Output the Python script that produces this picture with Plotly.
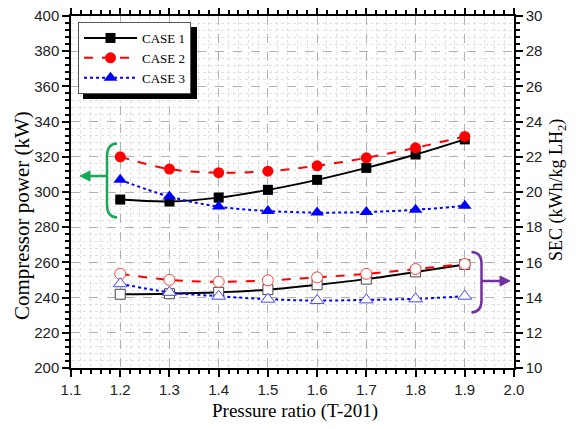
import plotly.graph_objects as go

pressure_ratio = [1.2, 1.3, 1.4, 1.5, 1.6, 1.7, 1.8, 1.9]

power_case1 = [295.7, 294.6, 296.8, 301.2, 306.9, 313.7, 321.3, 329.9]
power_case2 = [320.0, 313.0, 311.0, 311.8, 314.9, 319.4, 325.1, 331.6]
power_case3 = [306.9, 297.4, 291.7, 289.2, 288.3, 288.6, 289.9, 292.2]

sec_case1 = [14.19, 14.22, 14.30, 14.45, 14.73, 15.05, 15.46, 15.88]
sec_case2 = [15.35, 15.01, 14.90, 14.98, 15.15, 15.35, 15.62, 15.91]
sec_case3 = [14.79, 14.30, 14.08, 13.91, 13.83, 13.87, 13.93, 14.08]

case_names = ["CASE 1", "CASE 2", "CASE 3"]
x_ticks = [1.1, 1.2, 1.3, 1.4, 1.5, 1.6, 1.7, 1.8, 1.9, 2.0]

SERIF = "Liberation Serif"
SANS = "Liberation Sans"

styles = [
    dict(color="black", dash="solid", sym="square", size=10, osize=10, ocolor="#444444"),
    dict(color="#ff0000", dash="dash", sym="circle", size=11, osize=11, ocolor="#ff4040"),
    dict(color="#0000ff", dash="dot", sym="triangle-up", size=12, osize=12, ocolor="#4545ff"),
]

fig = go.Figure()
powers = [power_case1, power_case2, power_case3]
secs = [sec_case1, sec_case2, sec_case3]

for name, p, s, st in zip(case_names, powers, secs, styles):
    fig.add_trace(go.Scatter(
        x=pressure_ratio, y=p, name=name, mode="lines+markers",
        line=dict(color=st["color"], dash=st["dash"], width=2, shape="spline"),
        marker=dict(symbol=st["sym"], size=st["size"], color=st["color"]),
        legendgroup=name,
    ))
    fig.add_trace(go.Scatter(
        x=pressure_ratio, y=s, name=name, mode="lines+markers", yaxis="y2",
        line=dict(color=st["color"], dash=st["dash"], width=2, shape="spline"),
        marker=dict(symbol=st["sym"], size=st["osize"], color="white",
                    line=dict(width=1, color=st["ocolor"])),
        legendgroup=name, showlegend=False,
    ))

# screen layout (page body has an 8px default margin)
OFF = 8
SW, SH = 576, 429
PL, PR, PT, PB = 71, 514, 16, 368   # plot area in screen pixels
W, H = SW - OFF, SH - OFF
L, R, T, B = PL - OFF, SW - PR, PT - OFF, SH - PB
PW, PH = PR - PL, PB - PT


def dx(px):
    return 1.1 + (px - PL) / PW * 0.9


def dy(py):
    return 400 - (py - PT) / PH * 200


def paper_x(px):
    return (px - PL) / PW


def paper_y(py):
    return (PB - py) / PH


green = "#17a85a"
purple = "#7030a0"

# green bracket "(" and arrow pointing to the left axis
gp = (f"M {dx(117)},{dy(143.5)} Q {dx(107)},{dy(144)} {dx(107)},{dy(156)} "
      f"L {dx(107)},{dy(205)} Q {dx(107)},{dy(217)} {dx(117)},{dy(217.5)}")
fig.add_shape(type="path", path=gp, xref="x", yref="y", line=dict(color=green, width=2.5))
fig.add_shape(type="line", xref="x", yref="y", x0=dx(106), x1=dx(88), y0=dy(176), y1=dy(176),
              line=dict(color=green, width=2.5))
fig.add_shape(type="path", xref="x", yref="y",
              path=f"M {dx(80)},{dy(176)} L {dx(90)},{dy(171)} L {dx(90)},{dy(181)} Z",
              fillcolor=green, line=dict(color=green, width=1))

# purple bracket ")" and arrow pointing to the right axis
pp = (f"M {dx(471.5)},{dy(252)} Q {dx(481.5)},{dy(252.5)} {dx(481.5)},{dy(263.5)} "
      f"L {dx(481.5)},{dy(300.5)} Q {dx(481.5)},{dy(312)} {dx(471.5)},{dy(312.5)}")
fig.add_shape(type="path", path=pp, xref="x", yref="y", line=dict(color=purple, width=2.5))
fig.add_shape(type="line", xref="x", yref="y", x0=dx(482), x1=dx(502), y0=dy(281), y1=dy(281),
              line=dict(color=purple, width=2.5))
fig.add_shape(type="path", xref="x", yref="y",
              path=f"M {dx(510)},{dy(281)} L {dx(500)},{dy(276)} L {dx(500)},{dy(286)} Z",
              fillcolor=purple, line=dict(color=purple, width=1))

# legend shadow
fig.add_shape(type="rect", xref="paper", yref="paper",
              x0=paper_x(83), x1=paper_x(197),
              y0=paper_y(99), y1=paper_y(27),
              fillcolor="black", line=dict(width=0), layer="above")

# axis titles
fig.add_annotation(text="Pressure ratio (T-201)", xref="paper", yref="paper",
                   x=paper_x(295), y=paper_y(411), showarrow=False,
                   xanchor="center", yanchor="middle",
                   font=dict(family=SERIF, size=19, color="black"))
fig.add_annotation(text="Compressor power (kW)", xref="paper", yref="paper",
                   x=paper_x(22), y=paper_y(216), showarrow=False, textangle=-90,
                   xanchor="center", yanchor="middle",
                   font=dict(family=SERIF, size=21, color="black"))
fig.add_annotation(text="SEC (kWh/kg LH<sub>2</sub>)", xref="paper", yref="paper",
                   x=paper_x(558), y=paper_y(190), showarrow=False, textangle=-90,
                   xanchor="center", yanchor="middle",
                   font=dict(family=SERIF, size=18, color="black"))

tickfont = dict(family=SANS, size=15, color="#222222")

fig.update_layout(
    width=W, height=H,
    margin=dict(l=L, r=R, t=T, b=B, autoexpand=False),
    paper_bgcolor="white", plot_bgcolor="white",
    showlegend=True,
    legend=dict(x=paper_x(78), y=paper_y(22), xanchor="left", yanchor="top",
                bgcolor="white", bordercolor="#555555", borderwidth=1,
                font=dict(family=SERIF, size=13, color="black"),
                tracegroupgap=0, itemwidth=53),
    xaxis=dict(
        range=[1.1, 2.0], tickvals=x_ticks, ticktext=[f"{v:.1f}" for v in x_ticks],
        showline=True, linecolor="black", linewidth=1.5, mirror="ticks",
        ticks="outside", ticklen=7, tickwidth=1.5, tickcolor="black",
        showgrid=True, gridcolor="#b0b0b0", griddash="dash", gridwidth=1,
        minor=dict(dtick=0.02, tick0=1.1, ticks="outside", ticklen=4, tickcolor="black",
                   showgrid=True, gridcolor="#e0e0e0", griddash="dot"),
        tickfont=tickfont, zeroline=False, automargin=False, ticklabeloverflow="allow",
    ),
    yaxis=dict(
        range=[200, 400], dtick=20, tick0=200,
        showline=True, linecolor="black", linewidth=1.5,
        ticks="outside", ticklen=7, tickwidth=1.5, tickcolor="black",
        showgrid=True, gridcolor="#b0b0b0", griddash="dash", gridwidth=1,
        minor=dict(dtick=4, tick0=200, ticks="outside", ticklen=4, tickcolor="black",
                   showgrid=True, gridcolor="#e0e0e0", griddash="dot"),
        tickfont=tickfont, zeroline=False, automargin=False, ticklabeloverflow="allow",
    ),
    yaxis2=dict(
        range=[10, 30], dtick=2, tick0=10, overlaying="y", side="right",
        showline=True, linecolor="black", linewidth=1.5,
        ticks="outside", ticklen=7, tickwidth=1.5, tickcolor="black",
        showgrid=False,
        minor=dict(dtick=0.4, tick0=10, ticks="outside", ticklen=4, tickcolor="black"),
        tickfont=tickfont, zeroline=False, automargin=False, ticklabeloverflow="allow",
    ),
)

fig.write_html("out.html")
